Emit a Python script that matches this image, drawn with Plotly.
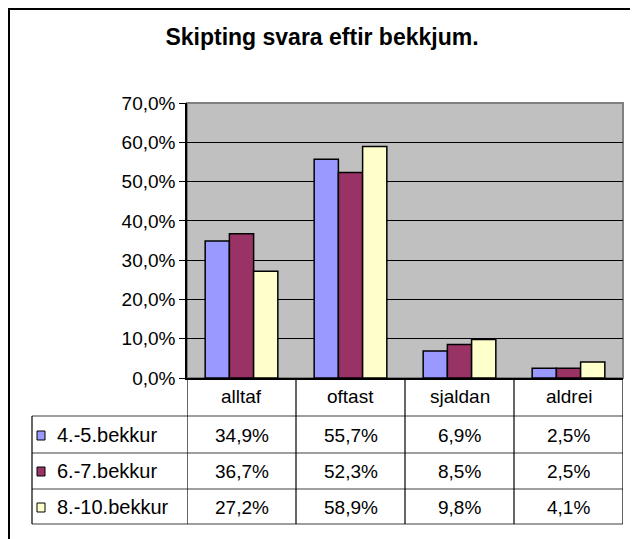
import plotly.graph_objects as go

# data
categories = ['alltaf', 'oftast', 'sjaldan', 'aldrei']
groups = ['4.-5.bekkur', '6.-7.bekkur', '8.-10.bekkur']
vals_45 = [34.9, 55.7, 6.9, 2.5]
vals_67 = [36.7, 52.3, 8.5, 2.5]
vals_810 = [27.2, 58.9, 9.8, 4.1]
colors = ['#9999FF', '#993366', '#FFFFCC']

# the page body has an 8px margin, so the figure starts at (8, 8)
OFF = 8
W, H = 638 - OFF, 539 - OFF
L, R, T, B = 187, 623, 103, 378   # plot area in page pixels
FONT = 'Liberation Sans, Arial, sans-serif'


def px(xp):
    # page pixel x -> paper x
    return (xp - L) / (R - L)


def py(yp):
    # page pixel y -> paper y
    return (B - yp) / (B - T)


def pct(v):
    return f'{v:.1f}%'.replace('.', ',')


series = [vals_45, vals_67, vals_810]

fig = go.Figure()
for name, vals, col in zip(groups, series, colors):
    fig.add_trace(go.Bar(
        x=categories,
        y=[v / 100 for v in vals],
        name=name,
        marker=dict(color=col, line=dict(color='black', width=1.5)),
    ))

shapes = []
# outer chart frame
shapes.append(dict(type='rect', xref='paper', yref='paper',
                   x0=px(OFF + 1), x1=px(700), y0=py(600), y1=py(OFF + 1),
                   line=dict(color='black', width=2), layer='below'))
# plot area border (grey)
shapes.append(dict(type='rect', xref='paper', yref='paper',
                   x0=0, x1=1, y0=0, y1=1,
                   line=dict(color='#808080', width=2), layer='below'))

# data table
row_lines = [416, 453, 489, 524]
for yl in row_lines:
    shapes.append(dict(type='line', xref='paper', yref='paper',
                       x0=px(32), x1=1, y0=py(yl), y1=py(yl),
                       line=dict(color='#404040', width=1.2)))
shapes.append(dict(type='line', xref='paper', yref='paper',
                   x0=px(32), x1=px(32), y0=py(416), y1=py(524),
                   line=dict(color='black', width=1.2)))
for i in range(len(categories) + 1):
    shapes.append(dict(type='line', xref='x', yref='paper',
                       x0=i - 0.5, x1=i - 0.5, y0=py(378), y1=py(524),
                       line=dict(color='black', width=1.2)))

annotations = []
for c in categories:
    annotations.append(dict(x=c, y=py(396), xref='x', yref='paper', text=c,
                            xanchor='center', yanchor='middle', showarrow=False,
                            font=dict(size=19, color='black', family=FONT)))
row_mid = [435, 471, 507]
for r, (name, vals, col) in enumerate(zip(groups, series, colors)):
    ym = py(row_mid[r])
    for c, v in zip(categories, vals):
        annotations.append(dict(x=c, y=ym, xref='x', yref='paper', text=pct(v),
                                xanchor='center', yanchor='middle', showarrow=False,
                                font=dict(size=19, color='black', family=FONT)))
    annotations.append(dict(x=px(55), y=ym, xref='paper', yref='paper', text=name,
                            xanchor='left', yanchor='middle', showarrow=False,
                            font=dict(size=20, color='black', family=FONT)))
    shapes.append(dict(type='rect', xref='paper', yref='paper',
                       x0=px(37), x1=px(45), y0=py(row_mid[r] + 5), y1=py(row_mid[r] - 4),
                       fillcolor=col, line=dict(color='black', width=1)))

fig.update_layout(
    width=W, height=H,
    margin=dict(l=L - OFF, r=W - (R - OFF), t=T - OFF, b=H - (B - OFF), pad=0),
    paper_bgcolor='white',
    plot_bgcolor='#C0C0C0',
    separators=', ',
    bargap=1 / 3,
    bargroupgap=0,
    showlegend=False,
    title=dict(text='<b>Skipting svara eftir bekkjum.</b>', x=(322 - OFF) / W, xanchor='center',
               y=1 - (37 - OFF) / H, yanchor='middle',
               font=dict(size=23, color='black', family=FONT)),
    font=dict(family=FONT, color='black'),
    shapes=shapes,
    annotations=annotations,
)
fig.update_yaxes(range=[0, 0.7], dtick=0.1, tickformat='.1%',
                 showgrid=True, gridcolor='black', gridwidth=1,
                 showline=True, linecolor='black', linewidth=1.5,
                 ticks='outside', ticklen=6, tickcolor='black',
                 tickfont=dict(size=19, color='black', family=FONT),
                 zeroline=False)
fig.update_xaxes(showticklabels=False, showline=True, linecolor='black', linewidth=1.5,
                 ticks='', range=[-0.5, 3.5])

fig.write_html('out.html')
